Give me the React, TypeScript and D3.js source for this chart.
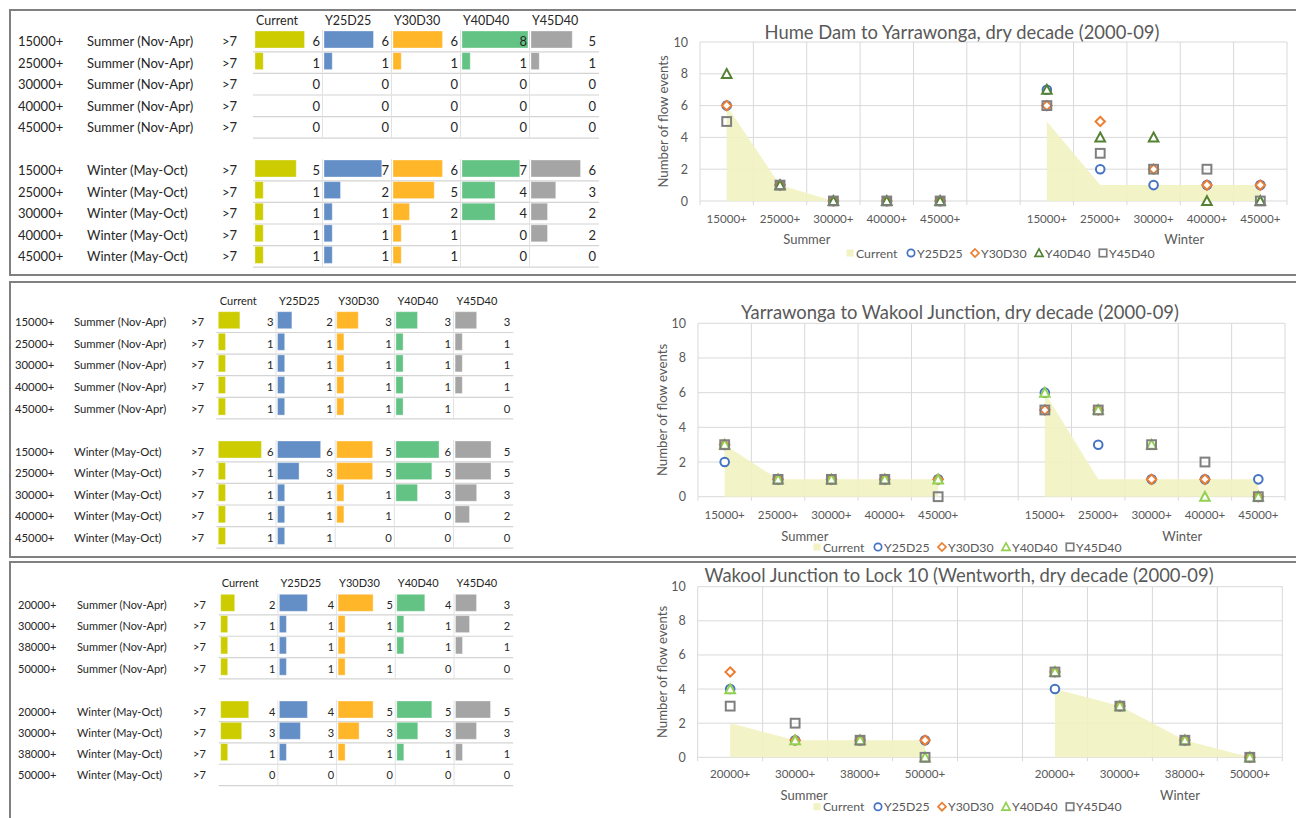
import React from 'react';
import * as d3 from 'd3';

// ---------- DATA ----------
const scenarios = ['Current', 'Y25D25', 'Y30D30', 'Y40D40', 'Y45D40'];
const seasonRowLabels = ['Summer (Nov-Apr)', 'Winter (May-Oct)'];
const durationLabel = '>7';
const axisSeasons = ['Summer', 'Winter'];
const yTicks = [0, 2, 4, 6, 8, 10];
const yAxisTitle = 'Number of flow events';

// Hume Dam to Yarrawonga (rows: Current, Y25D25, Y30D30, Y40D40, Y45D40)
const humeTitle = 'Hume Dam to Yarrawonga, dry decade (2000-09)';
const humeThresholds = ['15000+', '25000+', '30000+', '40000+', '45000+'];
const humeSummer = [
  [6, 1, 0, 0, 0],
  [6, 1, 0, 0, 0],
  [6, 1, 0, 0, 0],
  [8, 1, 0, 0, 0],
  [5, 1, 0, 0, 0],
];
const humeWinter = [
  [5, 1, 1, 1, 1],
  [7, 2, 1, 1, 1],
  [6, 5, 2, 1, 1],
  [7, 4, 4, 0, 0],
  [6, 3, 2, 2, 0],
];

// Yarrawonga to Wakool Junction
const yarraTitle = 'Yarrawonga to Wakool Junction, dry decade (2000-09)';
const yarraThresholds = ['15000+', '25000+', '30000+', '40000+', '45000+'];
const yarraSummer = [
  [3, 1, 1, 1, 1],
  [2, 1, 1, 1, 1],
  [3, 1, 1, 1, 1],
  [3, 1, 1, 1, 1],
  [3, 1, 1, 1, 0],
];
const yarraWinter = [
  [6, 1, 1, 1, 1],
  [6, 3, 1, 1, 1],
  [5, 5, 1, 1, 0],
  [6, 5, 3, 0, 0],
  [5, 5, 3, 2, 0],
];

// Wakool Junction to Lock 10
const wakoolTitle = 'Wakool Junction to Lock 10 (Wentworth, dry decade (2000-09)';
const wakoolThresholds = ['20000+', '30000+', '38000+', '50000+'];
const wakoolSummer = [
  [2, 1, 1, 1],
  [4, 1, 1, 1],
  [5, 1, 1, 1],
  [4, 1, 1, 0],
  [3, 2, 1, 0],
];
const wakoolWinter = [
  [4, 3, 1, 0],
  [4, 3, 1, 0],
  [5, 3, 1, 0],
  [5, 3, 1, 0],
  [5, 3, 1, 0],
];

// ---------- STYLE ----------
const FONT = 'Lato, "Open Sans", sans-serif';
const barColors = ['#CCCC00', '#638EC6', '#FFB628', '#63C384', '#A5A5A5'];
const markerColors = ['#CCCC00', '#4472C4', '#ED7D31', '#548235', '#7F7F7F'];
const areaFill = '#F2F2C2';
const gridColor = '#D9D9D9';
const axisText = '#595959';

type TableLayout = {
  x0: number; cellW: number; headerY: number; headerSize: number; headerDx: number;
  summerY: number; winterY: number; rowStep: number; labelX: number[]; fontSize: number; barRange: number;
};

function DataTable({ thresholds, summer, winter, L }: { thresholds: string[]; summer: number[][]; winter: number[][]; L: TableLayout }) {
  const barScale = d3.scaleLinear().domain([0, 8]).range([0, L.barRange]);
  const cellX = d3.scaleLinear().domain([0, scenarios.length]).range([L.x0, L.x0 + L.cellW * scenarios.length]);
  const groups = [
    { rows: summer, y0: L.summerY, label: seasonRowLabels[0] },
    { rows: winter, y0: L.winterY, label: seasonRowLabels[1] },
  ];
  return (
    <g fontFamily={FONT} fill="#262626">
      {scenarios.map((s, i) => (
        <text key={s} x={cellX(i) + L.headerDx} y={L.headerY} fontSize={L.headerSize} dominantBaseline="central">{s}</text>
      ))}
      {groups.map((g, gi) =>
        thresholds.map((t, ri) => {
          const cy = g.y0 + ri * L.rowStep;
          const top = cy - L.rowStep / 2;
          const bot = cy + L.rowStep / 2;
          return (
            <g key={gi + '-' + ri} fontSize={L.fontSize}>
              <text x={L.labelX[0]} y={cy} dominantBaseline="central">{t}</text>
              <text x={L.labelX[1]} y={cy} dominantBaseline="central">{g.label}</text>
              <text x={L.labelX[2]} y={cy} dominantBaseline="central">{durationLabel}</text>
              <line x1={cellX(0) - 1} x2={cellX(scenarios.length)} y1={bot} y2={bot} stroke="#D4D4D4" strokeWidth={1.2} />
              {scenarios.map((s, si) => {
                const v = g.rows[si][ri];
                return (
                  <g key={s}>
                    {si > 0 && <line x1={cellX(si) - 0.5} x2={cellX(si) - 0.5} y1={top} y2={bot} stroke="#E2E2E2" strokeWidth={1} />}
                    {v > 0 && (
                      <rect x={cellX(si) + 1} y={cy - 10} width={barScale(v)} height={17} fill={barColors[si]} stroke="#ffffff" strokeOpacity={0.35} strokeWidth={1} />
                    )}
                    <text x={cellX(si + 1) - 3} y={cy} textAnchor="end" dominantBaseline="central">{v}</text>
                  </g>
                );
              })}
            </g>
          );
        })
      )}
    </g>
  );
}

function Marker({ kind, x, y, color }: { kind: number; x: number; y: number; color: string }) {
  const sw = 2;
  if (kind === 1) return <circle cx={x} cy={y} r={4.3} fill="#fff" stroke={color} strokeWidth={sw} />;
  if (kind === 2) {
    const s = 4.7;
    return <path d={`M${x},${y - s}L${x + s},${y}L${x},${y + s}L${x - s},${y}Z`} fill="#fff" stroke={color} strokeWidth={sw} />;
  }
  if (kind === 3) {
    const s = 4.8;
    return <path d={`M${x},${y - s}L${x + s},${y + s * 0.85}L${x - s},${y + s * 0.85}Z`} fill="#fff" stroke={color} strokeWidth={sw} strokeLinejoin="miter" />;
  }
  const s = 4.4;
  return <rect x={x - s} y={y - s} width={2 * s} height={2 * s} fill="none" stroke={color} strokeWidth={sw} />;
}

type ChartLayout = {
  left: number; right: number; top: number; bottom: number; titleX: number; titleY: number;
  yTitleX: number; tickY: number; seasonY: number; legendY: number; legendX: number;
};

function FlowChart({ title, thresholds, summer, winter, L, triColor }: {
  title: string; thresholds: string[]; summer: number[][]; winter: number[][]; L: ChartLayout; triColor: string;
}) {
  const sKeys = thresholds.map((t) => 'S|' + t);
  const wKeys = thresholds.map((t) => 'W|' + t);
  const domain = [...sKeys, 'gap', ...wKeys];
  const x = d3.scaleBand<string>().domain(domain).range([L.left, L.right]).padding(0);
  const bw = x.bandwidth();
  const y = d3.scaleLinear().domain([0, 10]).range([L.bottom, L.top]);
  const cx = (k: string) => (x(k) as number) + bw / 2;
  const colors = markerColors.map((c, i) => (i === 3 ? triColor : c));

  const seasons = [
    { keys: sKeys, data: summer },
    { keys: wKeys, data: winter },
  ];

  const legendOffsets = [0, 61, 125, 189, 253];
  const plotW = L.right - L.left;

  return (
    <g fontFamily={FONT}>
      {yTicks.map((t) => (
        <line key={'h' + t} x1={L.left} x2={L.right} y1={y(t)} y2={y(t)} stroke={gridColor} strokeWidth={1} />
      ))}
      {d3.range(domain.length + 1).map((i) => {
        const xx = L.left + i * bw;
        return <line key={'v' + i} x1={xx} x2={xx} y1={L.top} y2={L.bottom + 4} stroke={gridColor} strokeWidth={1} />;
      })}
      {seasons.map((s, si) => {
        const gen = d3.area<number>()
          .x((_, i) => cx(s.keys[i]))
          .y0(y(0))
          .y1((d) => y(d));
        return <path key={'a' + si} d={gen(s.data[0]) || ''} fill={areaFill} fillOpacity={0.9} />;
      })}
      {[1, 2, 3, 4].map((k) =>
        seasons.map((s, si) =>
          s.data[k].map((v, i) => (
            <Marker key={k + '-' + si + '-' + i} kind={k} x={cx(s.keys[i])} y={y(v)} color={colors[k]} />
          ))
        )
      )}
      {yTicks.map((t) => (
        <text key={'yl' + t} x={L.left - 12} y={y(t)} textAnchor="end" dominantBaseline="central" fontSize={12.5} fill={axisText}>{t}</text>
      ))}
      <text transform={`translate(${L.yTitleX},${(L.top + L.bottom) / 2}) rotate(-90)`} textAnchor="middle" dominantBaseline="central" fontSize={13.2} fill={axisText}>{yAxisTitle}</text>
      {[...sKeys, ...wKeys].map((k) => (
        <text key={'xl' + k} x={cx(k)} y={L.tickY} textAnchor="middle" dominantBaseline="central" fontSize={11.6} fill={axisText}>{k.split('|')[1]}</text>
      ))}
      <text x={L.left + plotW * 0.182} y={L.seasonY} textAnchor="middle" dominantBaseline="central" fontSize={13} fill={axisText}>{axisSeasons[0]}</text>
      <text x={L.left + plotW * 0.825} y={L.seasonY} textAnchor="middle" dominantBaseline="central" fontSize={13} fill={axisText}>{axisSeasons[1]}</text>
      <text x={L.titleX} y={L.titleY} textAnchor="middle" dominantBaseline="central" fontSize={18.4} fill={axisText}>{title}</text>
      {scenarios.map((s, i) => {
        const lx = L.legendX + legendOffsets[i];
        return (
          <g key={'lg' + s}>
            {i === 0 ? (
              <rect x={lx - 3.5} y={L.legendY - 3.5} width={7} height={7} fill={areaFill} />
            ) : (
              <g transform={`translate(${lx},${L.legendY}) scale(0.85) translate(${-lx},${-L.legendY})`}>
                <Marker kind={i} x={lx} y={L.legendY} color={colors[i]} />
              </g>
            )}
            <text x={lx + 6} y={L.legendY} dominantBaseline="central" fontSize={12.3} fill={axisText}>{s}</text>
          </g>
        );
      })}
    </g>
  );
}

export default function App() {
  const panels = [
    [10, 275],
    [282, 557],
    [562, 830],
  ];
  const t1: TableLayout = { x0: 254, cellW: 69, headerY: 20, headerSize: 12.5, headerDx: 2, summerY: 41, winterY: 170, rowStep: 21.6, labelX: [18, 87, 222], fontSize: 13, barRange: 66 };
  const t2: TableLayout = { x0: 217.3, cellW: 59.2, headerY: 300, headerSize: 11, headerDx: 2.5, summerY: 321.7, winterY: 451, rowStep: 21.6, labelX: [15, 74, 191], fontSize: 11.3, barRange: 57.5 };
  const t3: TableLayout = { x0: 219.7, cellW: 58.7, headerY: 582.7, headerSize: 11, headerDx: 2, summerY: 604.3, winterY: 711, rowStep: 21.3, labelX: [18, 77, 193], fontSize: 11, barRange: 56 };

  const c1: ChartLayout = { left: 700, right: 1287, top: 42, bottom: 201, titleX: 962, titleY: 32, yTitleX: 663, tickY: 218, seasonY: 239, legendY: 253, legendX: 850 };
  const c2: ChartLayout = { left: 698, right: 1285, top: 323.3, bottom: 496.7, titleX: 960, titleY: 311.5, yTitleX: 662, tickY: 514, seasonY: 535.7, legendY: 547, legendX: 817 };
  const c3: ChartLayout = { left: 697.7, right: 1282.3, top: 586.7, bottom: 757.3, titleX: 959, titleY: 575, yTitleX: 661.7, tickY: 773.3, seasonY: 795, legendY: 806.7, legendX: 817 };

  return (
    <svg width={1296} height={818} style={{ position: 'absolute', left: 0, top: 0, background: '#fff' }} xmlns="http://www.w3.org/2000/svg">
      <rect x={0} y={0} width={1296} height={818} fill="#fff" />
      {panels.map(([a, b], i) => (
        <path key={'p' + i} d={`M1300,${a}H10V${b}H1300`} fill="none" stroke="#808080" strokeWidth={2} />
      ))}
      <DataTable thresholds={humeThresholds} summer={humeSummer} winter={humeWinter} L={t1} />
      <DataTable thresholds={yarraThresholds} summer={yarraSummer} winter={yarraWinter} L={t2} />
      <DataTable thresholds={wakoolThresholds} summer={wakoolSummer} winter={wakoolWinter} L={t3} />
      <FlowChart title={humeTitle} thresholds={humeThresholds} summer={humeSummer} winter={humeWinter} L={c1} triColor="#548235" />
      <FlowChart title={yarraTitle} thresholds={yarraThresholds} summer={yarraSummer} winter={yarraWinter} L={c2} triColor="#92D050" />
      <FlowChart title={wakoolTitle} thresholds={wakoolThresholds} summer={wakoolSummer} winter={wakoolWinter} L={c3} triColor="#92D050" />
    </svg>
  );
}
